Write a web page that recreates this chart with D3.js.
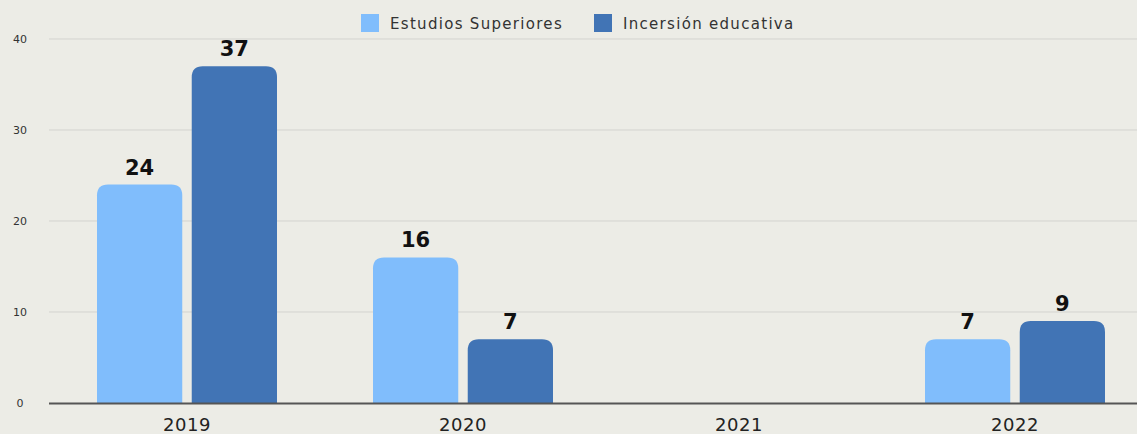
<!DOCTYPE html>
<html>
<head>
<meta charset="utf-8">
<script src="https://cdn.jsdelivr.net/npm/d3@7"></script>
<style>
  body { margin: 0; background: #ecece6; }
  svg { display: block; font-family: "DejaVu Sans", sans-serif; }
</style>
</head>
<body>
<script>
// data
var years = ["2019", "2020", "2021", "2022"];
var seriesNames = ["Estudios Superiores", "Incersión educativa"];
var superiores = [24, 16, 0, 7];
var insercion = [37, 7, 0, 9];
var yTicks = [0, 10, 20, 30, 40];
var colors = ["#80bdfc", "#4174b5"];

var width = 1137, height = 434;

var svg = d3.select("body").append("svg")
    .attr("width", width)
    .attr("height", height);

var x = d3.scaleBand().domain(years).range([49, 1153]).paddingInner(0).paddingOuter(0);
var y = d3.scaleLinear().domain([0, 40]).range([403, 39]);
var inner = d3.scaleBand().domain([0, 1]).range([48, 228]).paddingInner(0.1);

// grid
svg.append("g").selectAll("line")
    .data(yTicks.filter(function(d){ return d > 0; }))
    .enter().append("line")
    .attr("x1", 49).attr("x2", width)
    .attr("y1", function(d){ return y(d); })
    .attr("y2", function(d){ return y(d); })
    .attr("stroke", "#d3d3cf").attr("stroke-width", 1);

// y labels
svg.append("g").selectAll("text")
    .data(yTicks)
    .enter().append("text")
    .attr("x", 20).attr("y", function(d){ return y(d) + 4; })
    .attr("text-anchor", "middle")
    .attr("font-size", 11).attr("fill", "#333")
    .text(function(d){ return d; });

function topRounded(x0, y0, w, h, r) {
    r = Math.min(r, h);
    return "M" + x0 + "," + (y0 + h) +
        "V" + (y0 + r) +
        "Q" + x0 + "," + y0 + " " + (x0 + r) + "," + y0 +
        "H" + (x0 + w - r) +
        "Q" + (x0 + w) + "," + y0 + " " + (x0 + w) + "," + (y0 + r) +
        "V" + (y0 + h) + "Z";
}

var rows = [];
years.forEach(function(yr, i){
    [superiores[i], insercion[i]].forEach(function(v, s){
        rows.push({year: yr, s: s, v: v});
    });
});

var bars = rows.filter(function(d){ return d.v > 0; });

svg.append("g").selectAll("path")
    .data(bars)
    .enter().append("path")
    .attr("d", function(d){
        var bx = x(d.year) + inner(d.s);
        return topRounded(bx, y(d.v), inner.bandwidth(), y(0) - y(d.v), 11);
    })
    .attr("fill", function(d){ return colors[d.s]; });

// value labels
svg.append("g").selectAll("text")
    .data(bars)
    .enter().append("text")
    .attr("x", function(d){ return x(d.year) + inner(d.s) + inner.bandwidth() / 2; })
    .attr("y", function(d){ return y(d.v) - 10; })
    .attr("text-anchor", "middle")
    .attr("font-size", 21).attr("font-weight", "bold").attr("fill", "#111")
    .text(function(d){ return d.v; });

// axis line
svg.append("line")
    .attr("x1", 49).attr("x2", width)
    .attr("y1", 403.5).attr("y2", 403.5)
    .attr("stroke", "#555").attr("stroke-width", 2);

// x labels
svg.append("g").selectAll("text")
    .data(years)
    .enter().append("text")
    .attr("x", function(d){ return x(d) + x.bandwidth() / 2; })
    .attr("y", 431)
    .attr("text-anchor", "middle")
    .attr("font-size", 18).attr("letter-spacing", 0.5).attr("fill", "#222")
    .text(function(d){ return d; });

// legend
var legX = [361, 594];
var leg = svg.append("g").selectAll("g")
    .data(seriesNames)
    .enter().append("g")
    .attr("transform", function(d, i){ return "translate(" + legX[i] + ",14)"; });
leg.append("rect").attr("width", 18).attr("height", 18)
    .attr("fill", function(d, i){ return colors[i]; });
leg.append("text").attr("x", 29).attr("y", 15)
    .attr("font-size", 15).attr("letter-spacing", 1.3).attr("fill", "#333")
    .text(function(d){ return d; });
</script>
</body>
</html>
